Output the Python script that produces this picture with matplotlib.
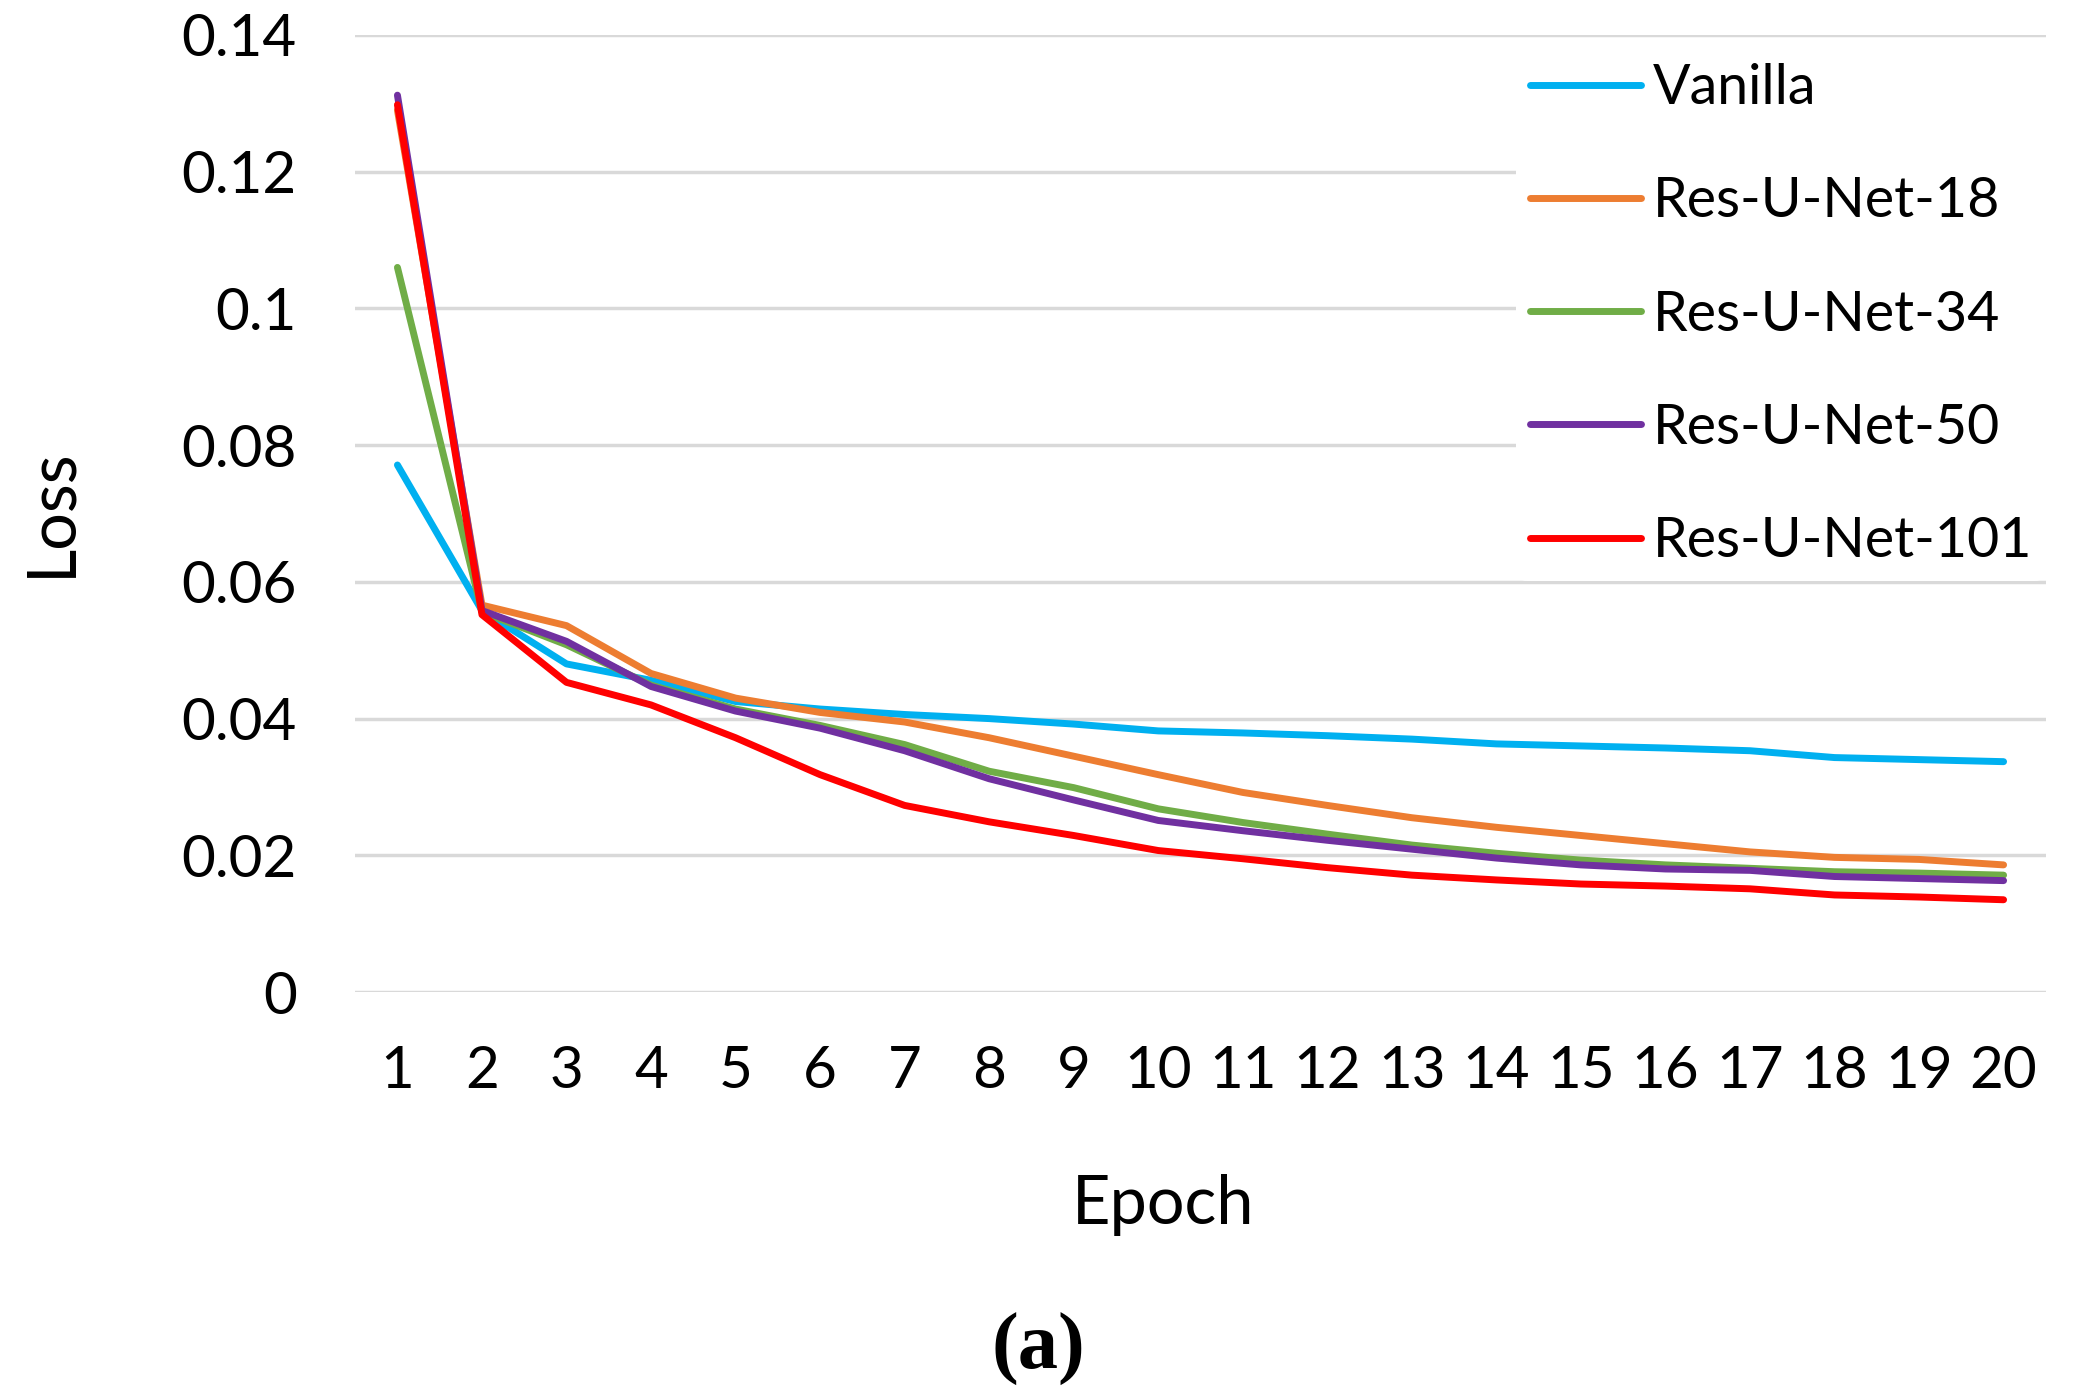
import numpy as np
import matplotlib
matplotlib.use("Agg")
import matplotlib.pyplot as plt

# data
epochs = list(range(1, 21))
vanilla = [0.0771, 0.0558, 0.0480, 0.0456, 0.0425, 0.0414, 0.0406, 0.0400, 0.0392, 0.0382,
           0.0379, 0.0375, 0.0370, 0.0363, 0.0360, 0.0357, 0.0353, 0.0343, 0.0340, 0.0337]
res18 = [0.1290, 0.0566, 0.0536, 0.0466, 0.0430, 0.0409, 0.0395, 0.0372, 0.0345, 0.0318,
         0.0292, 0.0273, 0.0255, 0.0241, 0.0229, 0.0217, 0.0205, 0.0197, 0.0194, 0.0186]
res34 = [0.1060, 0.0556, 0.0508, 0.0449, 0.0414, 0.0390, 0.0362, 0.0323, 0.0299, 0.0268,
         0.0248, 0.0231, 0.0215, 0.0203, 0.0193, 0.0186, 0.0181, 0.0176, 0.0174, 0.0171]
res50 = [0.1312, 0.0558, 0.0513, 0.0447, 0.0411, 0.0386, 0.0353, 0.0312, 0.0281, 0.0251,
         0.0236, 0.0222, 0.0209, 0.0196, 0.0186, 0.0180, 0.0178, 0.0169, 0.0166, 0.0163]
res101 = [0.1298, 0.0552, 0.0453, 0.0420, 0.0372, 0.0318, 0.0273, 0.0249, 0.0229, 0.0207,
          0.0195, 0.0182, 0.0171, 0.0164, 0.0158, 0.0155, 0.0151, 0.0142, 0.0139, 0.0135]
series_names = ["Vanilla", "Res-U-Net-18", "Res-U-Net-34", "Res-U-Net-50", "Res-U-Net-101"]
series_colors = ["#00B0F0", "#ED7D31", "#70AD47", "#7030A0", "#FF0000"]
y_ticks = [0, 0.02, 0.04, 0.06, 0.08, 0.1, 0.12, 0.14]
y_tick_labels = ["0", "0.02", "0.04", "0.06", "0.08", "0.1", "0.12", "0.14"]

plt.rcParams['font.family'] = ['Lato', 'DejaVu Sans']

fig = plt.figure(figsize=(20.77, 14), dpi=100)
ax = fig.add_axes([0.171, 0.2914, 0.814, 0.6836])

for name, vals, col in zip(series_names, [vanilla, res18, res34, res50, res101], series_colors):
    ax.plot(epochs, vals, color=col, linewidth=5, label=name,
            solid_joinstyle='round', solid_capstyle='round')

ax.set_xlim(0.5, 20.5)
ax.set_ylim(0, 0.14)
ax.set_xticks(epochs)
ax.set_xticklabels([str(e) for e in epochs])
ax.set_yticks(y_ticks)
ax.set_yticklabels(y_tick_labels)
ax.tick_params(axis='both', length=0, labelsize=42, colors='black')
ax.tick_params(axis='x', pad=38)
ax.tick_params(axis='y', pad=42)
ax.grid(axis='y', color='#D9D9D9', linewidth=2.5)
ax.set_axisbelow(True)
for s in ax.spines.values():
    s.set_visible(False)

leg = ax.legend(loc='upper right', bbox_to_anchor=(1.0, 0.985), fontsize=40,
                frameon=True, framealpha=1.0, edgecolor='white', facecolor='white',
                handlelength=2.0, handletextpad=0.2, labelspacing=1.12,
                borderpad=0.25, borderaxespad=0.0)
leg.get_frame().set_linewidth(0)

fig.text(0.0245, 0.634, "Loss", rotation=90, ha='center', va='center', fontsize=48)
fig.text(0.56, 0.139, "Epoch", ha='center', va='center', fontsize=48)
fig.text(0.5, 0.036, "(a)", ha='center', va='center', fontsize=58,
         family='Liberation Serif', weight='bold')

fig.savefig("out.png", dpi=100, facecolor='white')
